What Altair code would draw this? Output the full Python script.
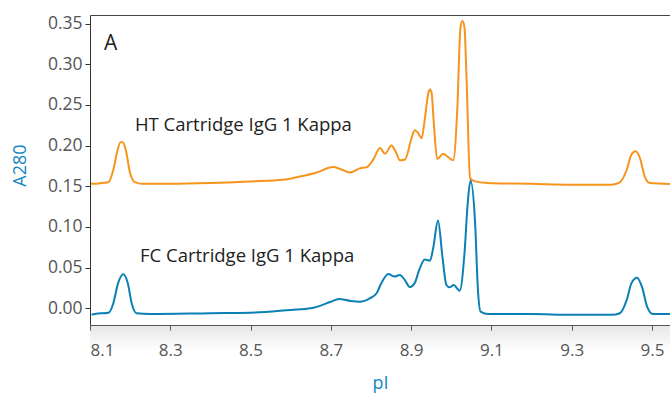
import altair as alt
import pandas as pd

# HT Cartridge IgG 1 Kappa (orange)
ht_x = [8.100, 8.110, 8.130, 8.146, 8.158, 8.168, 8.176, 8.182, 8.189, 8.200, 8.212, 8.230,
        8.300, 8.400, 8.500, 8.580, 8.623, 8.665, 8.705, 8.725, 8.747, 8.772, 8.790, 8.806,
        8.8225, 8.835, 8.851, 8.862, 8.872, 8.885, 8.901, 8.909, 8.918, 8.926, 8.934, 8.943,
        8.947, 8.951, 8.956, 8.965, 8.980, 8.992, 9.005, 9.015, 9.023, 9.028, 9.033, 9.038,
        9.047, 9.059, 9.090, 9.200, 9.300, 9.400, 9.420, 9.437, 9.449, 9.459, 9.470, 9.482,
        9.495, 9.545]
ht_y = [0.153, 0.153, 0.154, 0.155, 0.170, 0.193, 0.204, 0.204, 0.195, 0.166, 0.155, 0.153,
        0.153, 0.154, 0.156, 0.158, 0.162, 0.167, 0.1736, 0.171, 0.167, 0.172, 0.1736, 0.183,
        0.197, 0.190, 0.200, 0.192, 0.182, 0.183, 0.209, 0.219, 0.215, 0.209, 0.232, 0.265,
        0.269, 0.265, 0.232, 0.1835, 0.190, 0.186, 0.182, 0.244, 0.345, 0.353, 0.345, 0.285,
        0.160, 0.156, 0.154, 0.153, 0.152, 0.152, 0.1547, 0.170, 0.189, 0.193, 0.185, 0.162,
        0.154, 0.1527]

# FC Cartridge IgG 1 Kappa (blue)
fc_x = [8.104, 8.112, 8.146, 8.158, 8.170, 8.183, 8.194, 8.204, 8.216, 8.250, 8.400, 8.500,
        8.600, 8.650, 8.700, 8.720, 8.750, 8.7725, 8.797, 8.814, 8.826, 8.843, 8.859, 8.872,
        8.884, 8.897, 8.909, 8.920, 8.934, 8.947, 8.955, 8.967, 8.978, 8.988, 8.996, 9.006,
        9.021, 9.033, 9.041, 9.048, 9.059, 9.067, 9.073, 9.092, 9.200, 9.300, 9.400, 9.420,
        9.437, 9.449, 9.463, 9.475, 9.488, 9.502, 9.545]
fc_y = [-0.008, -0.007, -0.0054, 0.006, 0.031, 0.042, 0.031, 0.006, -0.006, -0.007, -0.006, -0.0054,
        -0.002, 0.000, 0.008, 0.0115, 0.009, 0.0082, 0.0123, 0.0185, 0.031, 0.0422, 0.039, 0.041,
        0.035, 0.026, 0.031, 0.047, 0.060, 0.0586, 0.074, 0.108, 0.0636, 0.0287, 0.0258, 0.0287,
        0.0217, 0.0677, 0.129, 0.157, 0.109, 0.0185, -0.004, -0.007, -0.007, -0.008, -0.008, -0.006,
        0.010, 0.031, 0.0377, 0.0266, 0.002, -0.007, -0.007]

series_names = ["HT", "FC"]
series_colors = ["#F7941D", "#0A80B4"]

x_ticks = [8.1, 8.3, 8.5, 8.7, 8.9, 9.1, 9.3, 9.5]
y_ticks = [0.00, 0.05, 0.10, 0.15, 0.20, 0.25, 0.30, 0.35]

ann_text = ["A", "HT Cartridge IgG 1 Kappa", "FC Cartridge IgG 1 Kappa"]
ann_x = [8.135, 8.212, 8.2245]
ann_y = [0.317, 0.218, 0.0574]
ann_size = [21, 18.5, 18.5]

df = pd.concat([
    pd.DataFrame({"pI": ht_x, "A280": ht_y, "series": "HT"}),
    pd.DataFrame({"pI": fc_x, "A280": fc_y, "series": "FC"}),
])
ann = pd.DataFrame({"t": ann_text, "x": ann_x, "y": ann_y, "s": ann_size})

W, H = 580, 310
FONT = "Open Sans"
xscale = alt.Scale(domain=[8.1, 9.545], nice=False, zero=False)
yscale = alt.Scale(domain=[-0.0205, 0.3605], nice=False, zero=False)

shadow = alt.Chart(pd.DataFrame({"a": [0]})).mark_rect(
    color=alt.Gradient(gradient="linear", x1=0, y1=0, x2=0, y2=1,
                       stops=[alt.GradientStop(color="#e6e6e6", offset=0),
                              alt.GradientStop(color="#ffffff", offset=1)])
).encode(x=alt.value(0), x2=alt.value(W), y=alt.value(H), y2=alt.value(H + 26))

lines = alt.Chart(df).mark_line(strokeWidth=2, interpolate="monotone", clip=True).encode(
    x=alt.X("pI:Q", scale=xscale,
            axis=alt.Axis(values=x_ticks, format=".1f", title="pI", grid=False, zindex=1,
                          domainColor="#555", tickColor="#555", tickSize=5,
                          labelColor="#555", labelFontSize=17, labelFont=FONT, labelPadding=12,
                          titleColor="#1487C0", titleFontSize=18, titleFont=FONT,
                          titleFontWeight="normal", titleX=W / 2, titleY=63,
                          titleBaseline="alphabetic")),
    y=alt.Y("A280:Q", scale=yscale,
            axis=alt.Axis(values=y_ticks, format=".2f", title="A280", grid=False, zindex=1,
                          domainColor="#333", tickColor="#333", tickSize=5,
                          labelColor="#555", labelFontSize=17.5, labelFont=FONT, labelPadding=3,
                          titleColor="#1487C0", titleFontSize=18, titleFont=FONT,
                          titleFontWeight="normal", titleX=-70, titleY=H / 2 - 5,
                          titleAngle=-90, titleBaseline="middle", titleAlign="center")),
    color=alt.Color("series:N", scale=alt.Scale(domain=series_names, range=series_colors),
                    legend=None),
    detail="series:N",
)

texts = alt.Chart(ann).mark_text(align="left", baseline="alphabetic", font=FONT,
                                 color="#222").encode(
    x=alt.X("x:Q", scale=xscale,
            axis=alt.Axis(orient="top", labels=False, ticks=False, title=None, grid=False,
                          domainColor="#444", zindex=1)),
    y=alt.Y("y:Q", scale=yscale),
    text="t:N",
    size=alt.Size("s:Q", scale=None, legend=None),
)

chart = alt.layer(shadow, lines, texts).resolve_axis(x="independent").properties(
    width=W, height=H,
    autosize=alt.AutoSizeParams(type="none"),
    padding={"left": 90, "top": 15, "right": 0, "bottom": 68},
    background="white",
).configure_view(stroke=None)

chart.save("out.html", embed_options={"renderer": "svg", "actions": False})
